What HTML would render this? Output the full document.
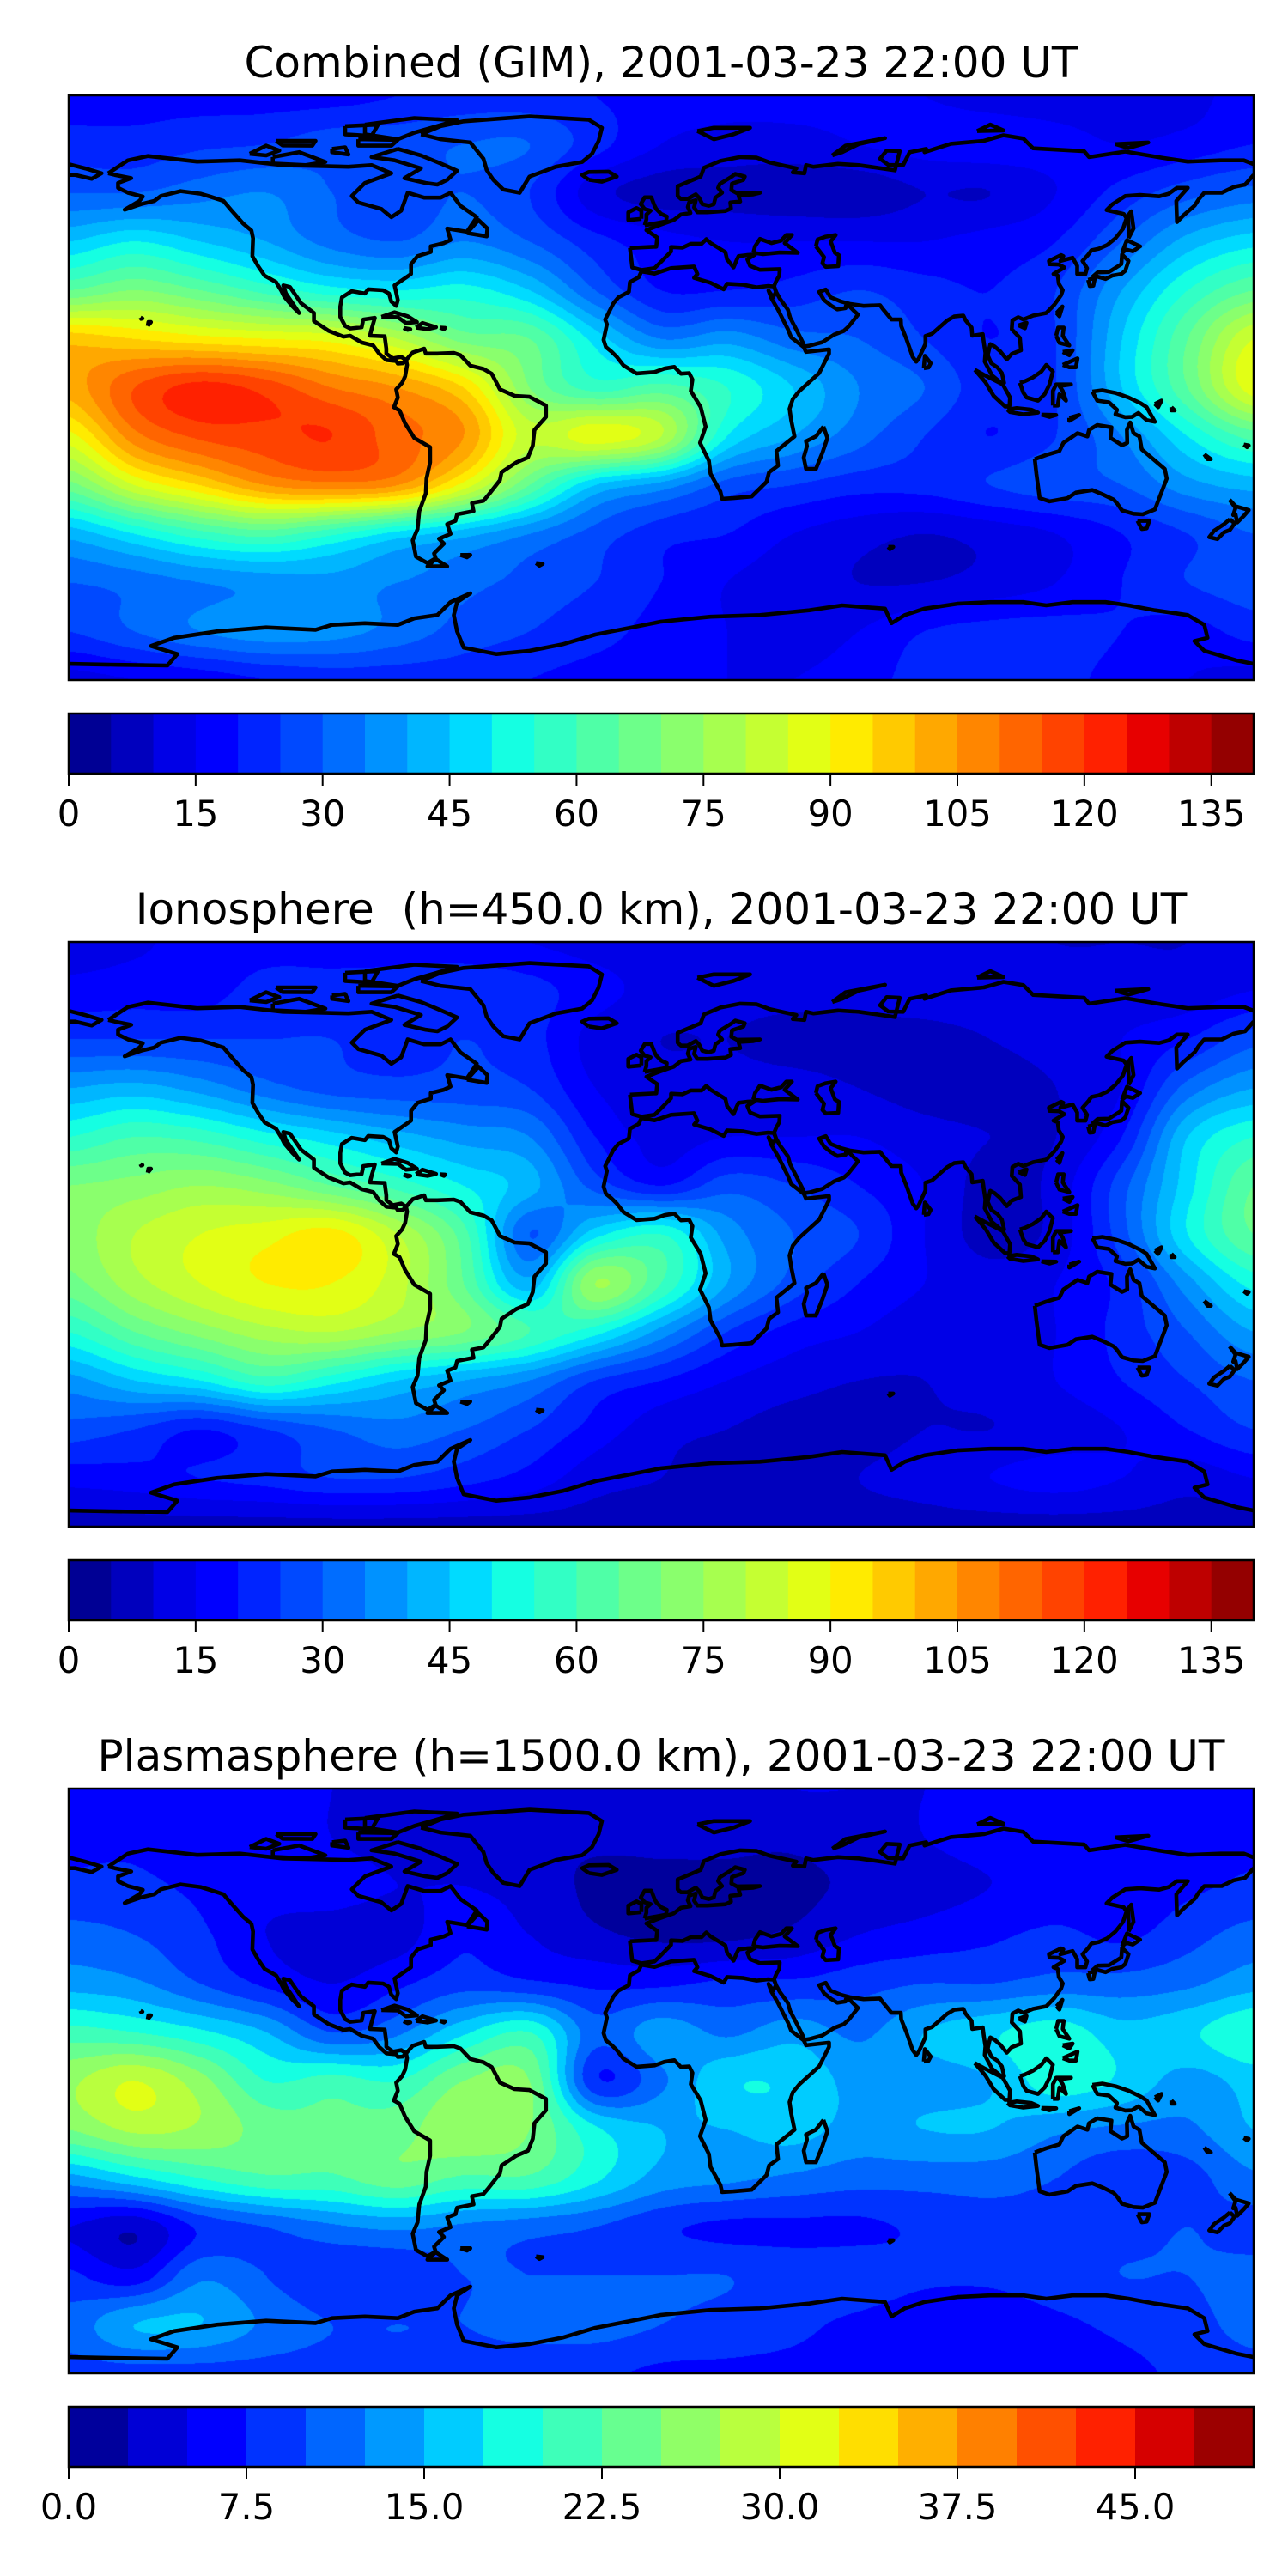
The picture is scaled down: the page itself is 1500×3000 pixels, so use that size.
<!DOCTYPE html>
<html><head><meta charset="utf-8">
<style>
html,body{margin:0;padding:0;background:#fff;}
#wrap{position:relative;width:1500px;height:3000px;overflow:hidden;}
canvas{position:absolute;left:80px;}
svg{position:absolute;left:0;top:0;}
text{font-family:"DejaVu Sans","Liberation Sans",sans-serif;fill:#000;}
</style></head>
<body>
<div id="wrap">
<canvas id="c0" width="1380" height="681" style="top:111px"></canvas>
<canvas id="c1" width="1380" height="681" style="top:1097px"></canvas>
<canvas id="c2" width="1380" height="681" style="top:2083px"></canvas>
<svg id="s" width="1500" height="3000" xmlns="http://www.w3.org/2000/svg"></svg>
</div>
<script>
// ---- data ----
const lonNodes = [-180,-160,-140,-120,-100,-80,-60,-40,-20,0,20,40,60,80,100,120,140,160,180];
const latNodes = [90,75,60,45,30,15,0,-15,-30,-45,-60,-75,-90];
const titles = ["Combined (GIM), 2001-03-23 22:00 UT","Ionosphere  (h=450.0 km), 2001-03-23 22:00 UT","Plasmasphere (h=1500.0 km), 2001-03-23 22:00 UT"];
const levelMax = [140,140,50];
const levelCount = [28,28,20];
const ticksA = [0,15,30,45,60,75,90,105,120,135];
const tickLabelsA = ["0","15","30","45","60","75","90","105","120","135"];
const ticksB = [0,7.5,15,22.5,30,37.5,45];
const tickLabelsB = ["0.0","7.5","15.0","22.5","30.0","37.5","45.0"];
const gridCombined = [
[18,18,18,18,18,20,22,22,20,18,17,17,16,15,13,12,12,13,18],
[22,22,24,25,28,28,30,30,22,15,13,13,15,17,18,17,15,17,20],
[30,30,33,35,30,27,30,25,12,8,8,7,7,10,10,15,22,28,32],
[45,50,45,40,33,30,35,30,22,17,15,15,15,15,17,20,30,42,48],
[65,70,65,58,52,50,52,45,30,20,20,22,25,22,20,25,40,55,65],
[98,95,92,90,88,80,68,65,48,35,38,32,30,25,20,25,45,65,85],
[102,115,122,118,110,105,95,70,58,62,55,45,35,30,22,25,45,65,88],
[88,108,116,118,120,112,105,82,88,80,50,40,32,25,20,25,35,50,62],
[68,85,95,105,108,105,88,65,45,38,28,25,22,22,25,28,30,38,42],
[42,50,58,62,56,48,42,35,28,22,20,15,12,10,12,15,20,25,30],
[30,32,35,37,38,35,32,28,25,20,15,12,10,10,12,15,20,25,28],
[25,30,35,38,37,33,28,25,22,18,15,12,15,20,22,22,20,18,22],
[13,15,17,20,22,22,22,20,18,17,15,15,18,22,25,22,18,15,13]];
const gridIono = [
[12,14,17,18,18,18,17,15,13,12,12,12,12,12,12,10,10,10,12],
[17,18,18,22,22,22,24,22,17,13,12,12,12,13,13,12,12,12,15],
[25,25,25,25,25,22,25,22,13,10,10,8,8,8,10,12,15,20,28],
[40,42,38,32,28,27,27,25,15,12,12,12,10,8,8,10,15,32,40],
[55,60,58,52,47,42,38,35,20,13,15,15,15,12,10,10,20,45,55],
[70,72,75,72,65,58,50,42,28,20,28,25,20,15,8,12,28,48,65],
[72,80,85,88,92,80,62,30,48,55,38,30,25,15,8,12,28,50,65],
[68,78,85,90,90,82,65,42,75,60,40,28,20,15,12,15,22,38,52],
[55,65,72,78,80,75,70,60,52,38,25,18,15,12,12,15,22,30,40],
[38,45,50,58,52,45,40,35,25,20,15,12,10,10,12,15,20,25,30],
[28,25,20,25,30,33,30,25,18,12,10,8,8,10,10,12,15,20,25],
[17,18,20,22,25,25,22,18,12,10,8,8,10,12,15,17,15,12,15],
[8,8,8,8,8,8,8,8,8,8,8,8,8,8,8,8,8,8,8]];
const gridPlasma = [
[6,6,6,6,5,4,4,4,4,4,4,5,5,5,6,6,6,6,6],
[7,7,6,6,5,4,4,3,3,3,3,3,4,5,6,6,6,6,7],
[8,8,7,6,6,5,5,4,2,2,2,2,3,4,5,6,6,7,8],
[11,10,8,5,4,4,7,5,3,2,2,3,5,6,7,8,7,9,11],
[14,13,10,7,5,7,9,8,7,7,8,8,9,10,10,11,11,12,14],
[21,20,18,15,10,12,17,20,11,14,12,14,12,15,17,19,16,17,20],
[27,30,26,20,21,20,25,25,8,12,17,17,14,14,15,19,17,14,16],
[25,28,27,24,23,24,27,25,18,15,15,16,14,15,15,13,12,12,15],
[14,17,20,22,22,24,22,22,18,14,13,12,11,11,11,10,8,9,12],
[5,3,8,10,12,13,12,11,10,8,7,7,7,8,9,9,9,10,9],
[8,6,12,10,8,8,10,10,10,10,10,9,9,8,8,9,10,10,11],
[11,15,15,12,10,10,10,11,11,10,9,8,7,6,6,7,8,9,11],
[9,9,9,9,9,9,9,8,8,7,7,7,7,7,7,7,7,8,9]];
const grids = [gridCombined, gridIono, gridPlasma];

// coastlines [lon,lat,...]
const coasts = [
[-168,66,-162,70,-156,71.3,-141,69.6,-128,70,-115,68.5,-95,68,-88,68.5,-82,66,-90,63,-94,59,-92,57,-85,55,-82,52.5,-79,54.5,-77,60,-72,58.5,-67,58.5,-64,60,-61,56,-56,52.5,-59,48,-65,49,-64,45.5,-66,44.5,-70,43.5,-70,41.8,-74,40.5,-76,38,-76,35,-81,31.5,-80,27,-80.5,25.2,-82,26.5,-82.7,29,-84.5,30,-89,30.3,-90,29,-94,29.7,-97,27.8,-97.5,25,-97.5,21.8,-96,19,-94.5,18.2,-91,18.6,-90.5,21,-87,21.5,-88,18,-88.5,16,-84,15.8,-83.5,12,-83.5,10.5,-81.5,9,-79,9.5,-77.5,8.5,-78.5,7.5,-80,7.4,-80.5,8.2,-83.5,8.5,-85.7,10.5,-87.5,13,-91,13.9,-94.5,16,-96.5,15.7,-101,17.5,-105.5,20.5,-105.5,23,-109.4,26,-112.8,31,-114.8,31.5,-114,29,-112,26,-110,23,-112,25,-114.5,28,-115.5,30,-117,32.5,-120.5,34.5,-122.5,37.5,-124.2,40.5,-124,46,-124.5,48.4,-127,50.5,-130.5,54.5,-133,57.5,-137,58.8,-140,59.7,-146,60.5,-152,59,-154,57.5,-158,56.5,-163,54.8,-158.5,57.5,-157.5,58.8,-162,60,-165,61.5,-165,63,-161,64.5,-166,65.5,-168,66],
[-73,78,-67,80.5,-60,82,-40,83.5,-22,82.5,-18,80,-19,76,-21,72,-24,69.5,-32,68,-40,65,-43,60,-48,61,-51,64,-53,67,-54,70.5,-58,75.5,-67,76.5,-73,78],
[-80,73.5,-73,71.5,-67,69,-62,66.8,-65,64,-68,62.5,-71.5,63,-78,64.5,-73,67.5,-81,70,-88,71,-80,73.5],
[-118,71,-110,72.5,-102,69.5,-108,68.5,-118,69,-118,71],
[-90,81,-75,83,-62,82.3,-75,78.5,-80,76.5,-90,78,-90,81],
[-125,72,-120,74.5,-116,73,-120,71.5,-125,72],
[-92,76.5,-80,76.3,-82,74.5,-92,74.5,-92,76.5],
[-100,73.5,-96,74,-95,71.8,-100,72.5,-100,73.5],
[-117,76,-105,76,-106,74.5,-115,74.6,-117,76],
[-96,80.5,-86,81,-88,77.5,-96,78,-96,80.5],
[-59,47.6,-53,46.6,-52.8,49,-55.5,51.6,-59,47.6],
[-85,21.8,-81,23.2,-77,22,-74.2,20.2,-77.5,19.9,-80,21.7,-85,21.8],
[-74.5,18.5,-72.5,19.9,-68.4,18.6,-71,18,-74.5,18.5],
[-78.3,18.4,-76.2,18,-77,17.8,-78.3,18.4],
[-67.2,18.5,-65.6,18.4,-66,18,-67.2,18.5],
[-156,19,-155,20.2,-155.8,20.2,-156,19],[-158.2,21.6,-157.6,21.3,-158,21.2,-158.2,21.6],
[-77.5,8.5,-75.5,10.8,-72,12,-71.5,10.5,-68,10.5,-63,10.7,-61,10,-58,6.8,-54,5.8,-51.5,4.3,-50,1.5,-49,-0.5,-44.5,-2.5,-40,-2.8,-35,-5.5,-35,-9,-38.5,-13,-39,-17.8,-40.5,-21.5,-44,-23,-48.5,-26,-49,-28.5,-52.5,-33,-54,-34.8,-57.5,-35.5,-57,-38,-62,-39,-62.5,-41,-65,-42,-64,-45,-67.5,-46.5,-66,-48,-69,-51,-68.5,-52.5,-71,-54,-74.5,-52,-75.5,-47,-74,-43.5,-73.5,-38,-71.5,-32.5,-71.3,-28,-70.2,-23,-70.2,-18.3,-75,-15.5,-77.8,-11,-79.5,-7,-81.2,-6,-80,-3,-80.5,-0.5,-78.7,1.5,-77.8,3.5,-77.2,7,-77.5,8.5],
[-68.5,-52.7,-65,-55,-71,-55,-68.5,-52.7],
[-61,-51.5,-58,-51.5,-59,-52.2,-61,-51.5],
[-38,-54,-36,-54.2,-37,-54.8,-38,-54],
[-6,35.8,-2,35.1,3,36.8,10,37.3,11,35,10,33.8,15,32.3,19,30.3,20,32,25,31.7,29,30.9,32.3,31.3,34.2,31.2,34.9,29.5,34,27.8,32.6,29.9,33.5,27.5,35.5,24,37,21,38.5,18,39.5,15.5,43.3,12.5,44,11,51,11.8,51,10.5,48,4.5,42,-1,40,-3.5,39,-6.5,39.5,-10,40.5,-15,35,-19.5,35.5,-24,32.8,-26,32,-29,27.5,-33.5,22,-34,18.5,-34.2,18,-32,15,-26.5,14.5,-22.5,11.8,-17,13.5,-12,12,-6,9,-1,9.5,2.5,8.5,4.5,6,4.3,4,6.4,1,5.9,-2,4.8,-7.5,4.4,-11.5,6.9,-13.5,9.5,-15,11,-16.8,12.5,-17.5,14.7,-16.5,19.5,-17,21,-14.5,26,-13,27.8,-9.8,29.5,-9.5,32.5,-6.8,34,-6,35.8],
[49.3,-12,50.5,-15.5,49,-20,47,-25,44,-25,43.3,-21.5,44.3,-18,44,-16.5,47,-15,49.3,-12],
[-9.5,43,-9,38.8,-8.8,37,-6,36.2,-2,36.8,0,38.8,3,41.9,3,43.3,6.5,43.1,9,44.3,12.3,44.3,13.7,45.7,15,44.5,19.5,41.7,20,39.5,22,37,23,39.5,23.5,40.5,26,40.8,28.5,41,26.2,39.5,27,37.5,30,36.3,36,36.5,35.9,34.5,35,33,34.3,31.3,34.9,29.5,36,27.5,38.5,24,39.2,21.5,41,18,43,14,43.5,12.7,45,12.9,49,14,52.5,16.3,55.5,17.5,57,18.9,59.8,22.5,58.5,23.7,56.3,26,56,24.5,53.5,24.1,51.6,25.3,50.5,26.2,49.5,27,48,29.5,50,30.2,51.5,27.8,54.7,26.5,57.3,25.8,61.5,25.2,66.5,25.4,67.3,24.3,70,21,72.8,21,72.9,19,74.5,15,76.4,9.5,77.5,8,78.2,8.9,80.3,13.5,80.3,15.9,82.3,16.6,86.9,20.7,89,21.9,91.8,22.2,92.5,20.7,94.3,18.5,94.5,16,97.7,16.5,98,14,98.5,10.7,98.3,8,100.5,3.8,103.5,1.3,104.2,1.5,103.5,4.5,102.2,6.2,100.3,7.5,99.2,10,100,13.4,101.3,12.7,103,11.2,105,8.7,106.5,10.4,109.3,11.5,109,15.3,106.5,18,106.7,20.7,108.5,21.7,110,21,113,22.2,117,23,119.5,25.6,121.5,28.5,122,30,120.8,32,120.5,34.5,119.2,35,122.5,37,120.8,37.9,118,38,117.8,39,121.5,40.8,122.2,40.5,121.3,39,125,40,126.4,37.5,126.4,35,128.9,35,129.4,36.8,128,39,129.7,40.9,130.7,42.3,133,42.8,135.5,43.9,138,46,140.3,48.9,141.4,52.2,140.5,53.5,135.3,54.7,137,56.4,141,59,145.5,59.3,151.3,58.9,154.2,59.7,156.7,61.5,160,61.5,156.5,57.5,156.7,51,158.5,52.9,162.1,56.1,163.3,58,165,60,170.3,60,174,61.8,177.4,62.5,180,65.5],
[180,68.8,177,70,170,70,160,69.6,152,70.8,141,72.7,130,71,128.5,72.8,113,73.7,110,76.7,104,77.7,98,76,88,75.1,80,72.5,80.5,73.5,75.5,72.5,73.5,68.5,69,68.6,66.5,70.5,68.5,73,72.5,72.8,71,66.9,60,68.5,53.7,68.9,46.3,68,44,68.5,43.5,66,40,66.3,41.1,67.5,33,69.3,29,70.8,24,71,18,69.8,13,67.7,12,65,8.5,63.5,5,62,5,59,6,58.1,8,58.1,10.5,59.5,11.5,58.5,12.5,56.5,14.5,56,16,56.5,16.5,58.5,18.5,60,17.3,61.5,17.8,62.7,21.5,65,22.5,65.8,25.4,65,25,64,21.5,62.8,21.3,60.8,23,59.9,30,60,28,59.5,23.5,59.2,24,57.3,21,57,21.2,55.2,19.5,54.4,14,54,11,54,10,55.5,10.5,57.7,8.5,57.1,8.1,55.6,8.9,53.8,6,53.3,3.8,51.6,1.5,50.8,-1.5,49.7,-4.5,48.5,-1.2,46.2,-1.5,43.4,-9.5,43],
[-180,65.5,-178,65.5,-173,64.3,-170,66,-175,67.5,-180,68.8],
[28,41.5,28.5,43.5,30,45.8,33.5,44.5,36.5,45.3,38,47,39.7,47,37.5,44.5,41.5,41.5,36,41.6,31,41.1,28,41.5],
[47,43.5,47.5,45.6,50,46.5,53,47,51.5,45,52.8,41.5,54,40.8,53.8,37.4,50,37.2,49,38.3,49.5,40.2,47,43.5],
[-5,50,1.5,51.2,1.7,52.7,0,53.5,-1.5,55,-2,56,-3,58.6,-5,58.6,-6.2,56.5,-5,55,-3.2,54.5,-4.5,53.3,-4.5,51.8,-5,50],
[-6,52,-6,54.5,-7.5,55.3,-10,54,-10,51.6,-6,52],
[-22,64,-24,65.5,-22,66.4,-16,66.5,-13.5,65,-18,63.4,-22,64],
[11,79,16,80,27,80,22,78,16,76.5,11,79],
[52,71.5,56,74.5,68,76.8,60,75,55,72.5,52,71.5],
[96,79,104,79.2,100,81,96,79],[138,75,148,75.5,142,73.8,138,75],
[130.9,34,132.6,35.5,136,35.6,139.8,38,140,41,142,39,141,36,139.8,35,137,34.5,135,33.5,132.5,34.2,130.9,34],
[129.7,33.2,131.8,33.8,131.3,31.4,130.2,31.3,129.7,33.2],
[140,41.5,141.5,45.4,145.5,43.5,143.3,42,141.3,42.5,140,41.5],
[142,46,143.5,49,142.8,54.3,141.8,53,142,49,142,46],
[120.1,23,121.9,25,121,22,120.1,23],[108.6,19.2,111,20,110.5,18.3,108.6,19.2],
[79.8,6,80.1,9.8,81.9,7.5,81.2,6.2,79.8,6],
[120,16,120.6,18.5,122.3,18.5,122,16,124,13,121,13.8,120,16],
[122,7,126.5,9,126,6.3,124,6.3,122,7],[122,11,125,11.5,124,10,122,11],
[109,1.5,110,-1.5,111,-3,114.5,-4,116.5,-2,118,1,119,5,117,7,115.5,5,113,3.2,110.5,2,109,1.5],
[95.3,5.5,98,4,103.8,1,106,-3,105.8,-5.8,104.5,-5.8,101,-2.5,98.5,1.7,95.3,5.5],
[105.2,-6.8,108,-6.3,112.5,-6.8,114.5,-7.7,110,-8.2,106,-7.5,105.2,-6.8],
[119,-5.5,120.5,-5.5,121,-2,123,-4,122,-1,121,0.5,124.5,1,120,1,119,-1,119,-5.5],
[131,-1.2,134,-0.8,138,-1.6,142,-3,145.7,-4.8,147.5,-6,150,-10.5,147.5,-10,145,-7.8,143,-9,141,-9.1,138,-8.2,138.5,-6.8,136,-4.5,132.5,-4,131,-1.2],
[124,-9.3,127,-8.4,124,-10.2,124,-9.3],[115.5,-8.3,120,-8.4,118,-9,115.5,-8.3],
[150,-5,152,-4,151,-6,150,-5],[155,-6,156,-7,155,-7,155,-6],
[113.5,-22,114,-26.5,115,-34,118,-35,123.5,-34,126,-32.3,131,-31.5,134.5,-33,137.5,-34.5,138.5,-35.6,140,-37.8,143.5,-38.8,146.3,-39,150,-37.5,151.5,-33.5,153.6,-28,153,-25,149.5,-22,146,-19,145.3,-15,143.5,-14,142.5,-10.7,141.5,-13,141.6,-17,140,-17.7,136.5,-15.5,136.8,-12.2,132.5,-11.5,130,-13,129.5,-15,126.5,-14,122.2,-17,121,-19.5,117,-20.7,113.5,-22],
[144.7,-41,148.3,-41,147.5,-43.3,146,-43.5,144.7,-41],
[172.7,-34.5,174.5,-36.5,178.5,-37.7,177,-39.5,175,-41.5,174.5,-39,173.8,-39.2,174.5,-37,172.7,-34.5],
[172.8,-40.5,174.2,-41.8,172.8,-43.8,171,-44.5,169,-46.6,166.5,-46,168,-44,171,-42,172.8,-40.5],
[165,-20.5,167,-22,166,-22,165,-20.5],[177,-17.5,178.5,-17.8,178,-18.3,177,-17.5],
[69,-49,70.5,-49,69.5,-49.7,69,-49],
[-180,-85,-165,-85.3,-150,-85.5,-147,-82,-155,-79.5,-148,-77,-135,-75,-120,-73.8,-105,-74.5,-100,-73,-90,-72.5,-80,-73,-75,-71,-68,-70,-64,-66,-58,-63.3,-62,-66,-63,-70,-62,-75,-60,-80,-50,-82,-40,-81,-30,-79,-20,-76,-10,-74,0,-72,15,-70.5,30,-70,45,-68.5,55,-67,68,-68,70,-72.5,74,-70,80,-68,90,-66.5,100,-66,110,-66,117,-67,125,-66,135,-66,142,-67,150,-68.5,160,-70,165,-73,166,-77,162,-78,165,-81,175,-84,180,-85]
];

// ---- helpers ----
function jet(x){
  function seg(pts){for(let i=1;i<pts.length;i++){if(x<=pts[i][0]){const a=pts[i-1],b=pts[i];return a[1]+(b[1]-a[1])*(x-a[0])/(b[0]-a[0]);}}return pts[pts.length-1][1];}
  const r=seg([[0,0],[0.35,0],[0.66,1],[0.89,1],[1,0.5]]);
  const g=seg([[0,0],[0.125,0],[0.375,1],[0.64,1],[0.91,0],[1,0]]);
  const b=seg([[0,0.5],[0.11,1],[0.34,1],[0.65,0],[1,0]]);
  return [Math.round(r*255),Math.round(g*255),Math.round(b*255)];
}
function cr(p0,p1,p2,p3,t){return 0.5*((2*p1)+(-p0+p2)*t+(2*p0-5*p1+4*p2-p3)*t*t+(-p0+3*p1-3*p2+p3)*t*t*t);}
function sample(g,lon,lat){
  const fx=(lon+180)/20, fy=(90-lat)/15;
  const i=Math.min(Math.floor(fx),17), j=Math.min(Math.floor(fy),11);
  const tx=fx-i, ty=fy-j;
  const rows=[];
  for(let m=-1;m<=2;m++){
    const r=g[Math.max(0,Math.min(12,j+m))];
    const c=k=>r[Math.max(0,Math.min(18,i+k))];
    rows.push(cr(c(-1),c(0),c(1),c(2),tx));
  }
  return cr(rows[0],rows[1],rows[2],rows[3],ty);
}
const W=1380,H=681,X0=80;
const tops=[111,1097,2083];
for(let k=0;k<3;k++){
  const cv=document.getElementById('c'+k),ctx=cv.getContext('2d');
  const img=ctx.createImageData(W,H);
  const N=levelCount[k],step=levelMax[k]/N;
  const pal=[];for(let i=0;i<N;i++)pal.push(jet((i+0.5)/N));
  for(let y=0;y<H;y++){
    const lat=90-(y+0.5)/H*180;
    for(let x=0;x<W;x++){
      const lon=-180+(x+0.5)/W*360;
      let v=sample(grids[k],lon,lat);
      let li=Math.floor(v/step);li=Math.max(0,Math.min(N-1,li));
      const c=pal[li],o=(y*W+x)*4;
      img.data[o]=c[0];img.data[o+1]=c[1];img.data[o+2]=c[2];img.data[o+3]=255;
    }
  }
  ctx.putImageData(img,0,0);
}
const NS='http://www.w3.org/2000/svg';
const svg=document.getElementById('s');
function mk(tag,attrs,parent){const e=document.createElementNS(NS,tag);for(const a in attrs)e.setAttribute(a,attrs[a]);(parent||svg).appendChild(e);return e;}
const panelNames=['combined','ionosphere','plasmasphere'];
for(let k=0;k<3;k++){
  const off=986*k, top=tops[k];
  const g=mk('g',{});
  
  
  const t=mk('text',{x:770,y:90+off,'text-anchor':'middle','font-size':50},g);
  t.setAttribute('xml:space','preserve');t.style.whiteSpace='pre';
  t.textContent=titles[k];
  
  
  const cg=mk('g',{},g);
  
  
  for(const c of coasts){
    let d='';
    for(let i=0;i<c.length;i+=2){const px=X0+(c[i]+180)/360*W, py=top+(90-c[i+1])/180*H;d+=(i?'L':'M')+px.toFixed(1)+' '+py.toFixed(1);}
    const p=mk('path',{d:d,fill:'none',stroke:'#000','stroke-width':4.6,'stroke-linejoin':'round'},cg);
    
    
  }
  const fr=mk('rect',{x:X0,y:top,width:W,height:H,fill:'none',stroke:'#000','stroke-width':2.5},g);
  
  
  // colorbar
  const cb=mk('g',{},g);
  
  
  const cbTop=831+off, cbH=70, N=levelCount[k], vmax=levelMax[k];
  const sx=v=>X0+v/vmax*W;
  for(let i=0;i<N;i++){
    const c=jet((i+0.5)/N);
    const r=mk('rect',{x:sx(i*vmax/N),y:cbTop,width:W/N+0.6,height:cbH,fill:'rgb('+c.join(',')+')'},cb);
    
    
  }
  mk('rect',{x:X0,y:cbTop,width:W,height:cbH,fill:'none',stroke:'#000','stroke-width':2.5},cb);
  const tv=k<2?ticksA:ticksB, tl=k<2?tickLabelsA:tickLabelsB;
  for(let i=0;i<tv.length;i++){
    const x=sx(tv[i]);
    const tk=mk('line',{x1:x,x2:x,y1:cbTop+cbH,y2:cbTop+cbH+14,stroke:'#000','stroke-width':2},cb);
    
    
    const lb=mk('text',{x:x,y:962+off,'text-anchor':'middle','font-size':41.7},cb);
    lb.textContent=tl[i];
    
    
  }
}
</script>
</body></html>
